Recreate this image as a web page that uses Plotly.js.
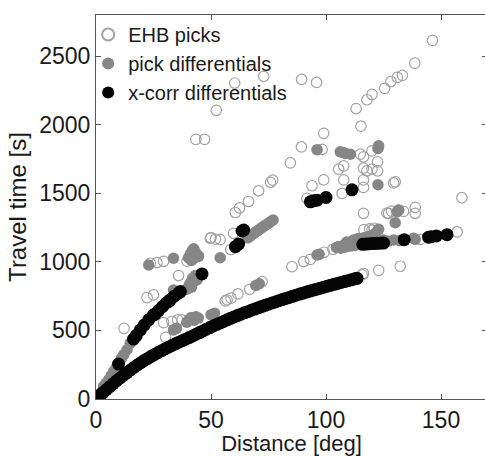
<!DOCTYPE html>
<html>
<head>
<meta charset="utf-8">
<script src="https://cdn.plot.ly/plotly-3.0.1.min.js"></script>
<style>
html,body{margin:0;padding:0;overflow:hidden;background:#fff;}
#chart{width:488px;height:456px;}
</style>
</head>
<body>
<div id="chart"></div>
<script>
// EHB picks (open circles): [distance deg, travel time s]
const ehbPicks = [
[0.5,8],[1,15],[146.3,2615],[138.6,2449],[133.2,2360],[131,2345],[128.2,2315],[125.5,2265],[120,2221],[117.8,2182],
[113.1,2118],[115.2,1989],[72.9,2353],[60.3,2304],[89.4,2330],[95.9,2308],[52.3,2105],[43.4,1893],[47.2,1893],[99,1937],
[89.3,1838],[84.5,1722],[76.8,1596],[75.9,1580],[70.7,1518],[66.3,1440],[62.4,1393],[60.6,1360],[59.8,1208],[54,1162],
[50,1176],[58.6,1090],[39.6,1005],[26.5,995],[29.4,1004],[23.6,990],[35.9,900],[22.2,739],[25,759],[12.2,515],
[29.4,557],[33,565],[35.5,577],[37.4,577],[57,723],[30.3,450],[56.2,715],[58.7,735],[61.7,766],[66.8,800],
[72.2,856],[85.2,965],[90.3,1002],[93.2,1018],[99.2,1070],[103,1092],[49.7,1172],[51.9,1165],[98.3,1820],[114.9,1785],
[116.3,1766],[120,1809],[122.4,1729],[122.4,1664],[116.3,1683],[117.8,1664],[120,1676],[107.7,1700],[105.5,1676],[107.7,1598],
[99,1598],[93.9,1555],[116.3,1598],[116.3,1543],[130.1,1584],[107,1499],[129.4,1576],[159.1,1468],[116.3,1354],
[127.2,1354],[138.8,1397],[138.8,1354],[157,1218],[132.3,968],[122.9,938],[116.3,915],[115.7,905],[120,1232],[141,1164],
[91.7,1463],[126.5,1356],[128.5,1370],[131.5,1375],[133.7,1368],[116.5,1235],[119,1240],[121,1245],[108,1112],[105,1105]
];

// pick differentials (gray filled)
const pickDiff = [
[0.3,12],[1.2,25],[2.2,45],[3.3,92],[4.4,115],[5.5,140],[6.6,170],[7.7,201],[8.8,228],[11,295],[12,322],[13.5,359],[14.9,407],
[18,480],[24,600],[28,660],[33.7,795],
[39.5,800],[40.5,830],[41.2,850],[42,880],[42.6,860],[43.2,900],[44,870],[41.5,815],
[40.2,1030],[41,1055],[41.8,1080],[42.5,1095],[43.2,1070],[44,1050],[44.6,1040],[41.5,1010],[43,1030],
[33.7,1026],[22.9,977],[54,1030],
[39.5,560],[40.5,580],[41.5,595],[42.5,575],[43.5,600],[44.5,590],[33.7,504],[35,515],[50,615],[51.5,626],
[69.5,828],[71,840],
[66,1175],[67,1188],[68,1200],[69,1212],[70,1224],[71,1236],[72,1248],[73,1260],[74,1271],[75,1282],[76,1294],[77,1305],
[96.1,1050],[97,1055],
[96.1,1818],[106.2,1802],[107.5,1798],[108.4,1790],[110.6,1785],[122.6,1827],[122.9,1846],[122.6,1562],
[104.5,1105],[105.5,1112],[106.5,1100],[107.5,1120],[108.5,1108],[109.5,1128],[110.5,1115],[111.5,1135],[112.5,1120],
[113.5,1150],[114.5,1128],[115.5,1160],[116.5,1175],[117.5,1150],[118.5,1185],[119.5,1165],[120.5,1195],[121.5,1210],
[109,1145],[112,1160],[114,1170],[122.9,1237],[130.1,1285],[130.9,1365],[131.6,1378],[129.4,1159],[138.8,1164],
[138.1,1172],[125,1159],[127,1150],[132,1155]
];

// x-corr differentials (black filled)
const xcorrDiff = [
// main branch
[0.8,15],[2,32],[3,46],[4.5,68],[6,90],[7.5,112],[9,133],[10.5,153],[12,173],[13.5,193],[15,212],[16.5,230],[18,248],
[19.5,265],[21,281],[22.5,296],[24,311],[25.5,325],[27,339],[28.5,352],[30,365],[31.5,378],[33,390],[34.5,402],[36,414],
[37.5,425],[39,436],[40.5,448],[42,460],[43.5,472],[45,484],[46.5,496],[48,509],[49.5,521],[51,533],[52.5,544],[54,555],
[55.5,566],[57,577],[58.5,588],[60,598],[61.5,608],[63,618],[64.5,628],[66,637],[67.5,647],[69,656],[70.5,665],[72,674],
[73.5,683],[75,691],[76.5,700],[78,708],[79.5,717],[81,725],[82.5,733],[84,741],[85.5,749],[87,757],[88.5,765],[90,772],
[91.5,780],[93,787],[94.5,794],[96,801],[97.5,808],[99,815],[100.5,822],[102,829],[103.5,836],[105,843],[106.5,850],
[108,856],[109.5,863],[111,869],[112.5,876],[113.5,880],
// upper branches
[9.8,255],[16.3,437],[17.5,462],[19.3,504],[21,540],[22.9,577],[25,612],[25.8,620],[27.2,645],[29,675],[30.5,700],
[31.6,712],[32.3,723],[34,750],[35.9,771],[36.7,783],[46.1,912],[60.6,1111],[62,1130],[63.5,1225],[64.2,1232],
[93.2,1438],[94.5,1445],[96.1,1450],[100,1470],[111.3,1525],
[116,1128],[117.5,1130],[119,1132],[120.5,1133],[122,1135],[123.5,1136],[125,1137],[134,1162],
[144.6,1180],[145.8,1183],[148,1189],[152.6,1198]
];

const xTicks = [0,50,100,150];
const yTicks = [0,500,1000,1500,2000,2500];

const FONT = '"Liberation Sans", Arial, Helvetica, sans-serif';
const col = a => a.map(p => p[0]);
const val = a => a.map(p => p[1]);

const traces = [
  {x: col(ehbPicks), y: val(ehbPicks), type: 'scatter', mode: 'markers', name: 'EHB picks',
   marker: {symbol: 'circle-open', size: 10.5, color: '#a2a2a2', line: {width: 1.2, color: '#a2a2a2'}}},
  {x: col(pickDiff), y: val(pickDiff), type: 'scatter', mode: 'markers', name: 'pick differentials',
   marker: {symbol: 'circle', size: 11.5, color: '#868686'}},
  {x: col(xcorrDiff), y: val(xcorrDiff), type: 'scatter', mode: 'markers', name: 'x-corr differentials',
   marker: {symbol: 'circle', size: 13, color: '#050505'}}
];

const axisCommon = {
  showline: true, linecolor: '#555', linewidth: 1, mirror: 'ticks',
  ticks: 'inside', ticklen: 5, tickcolor: '#555', tickwidth: 1,
  showgrid: false, zeroline: false,
  tickfont: {family: FONT, size: 23, color: '#1a1a1a'}
};

const layout = {
  width: 488, height: 456,
  margin: {l: 96, r: 1, t: 15, b: 57},
  paper_bgcolor: '#fff', plot_bgcolor: '#fff',
  font: {family: FONT, color: '#1a1a1a'},
  showlegend: true,
  legend: {x: -0.02, y: 1.0, xanchor: 'left', yanchor: 'top', bgcolor: 'rgba(0,0,0,0)',
           font: {family: FONT, size: 20, color: '#1a1a1a'}, itemsizing: 'constant', tracegroupgap: 0},
  xaxis: Object.assign({}, axisCommon, {range: [0, 170], tickvals: xTicks, ticktext: xTicks.map(String),
    title: {text: 'Distance [deg]', font: {family: FONT, size: 22, color: '#1a1a1a'}, standoff: 11}}),
  yaxis: Object.assign({}, axisCommon, {range: [0, 2800], tickvals: yTicks, ticktext: yTicks.map(String),
    title: {text: 'Travel time [s]', font: {family: FONT, size: 24, color: '#1a1a1a'}, standoff: 5}})
};

Plotly.newPlot('chart', traces, layout, {displayModeBar: false, staticPlot: true});
</script>
</body>
</html>
